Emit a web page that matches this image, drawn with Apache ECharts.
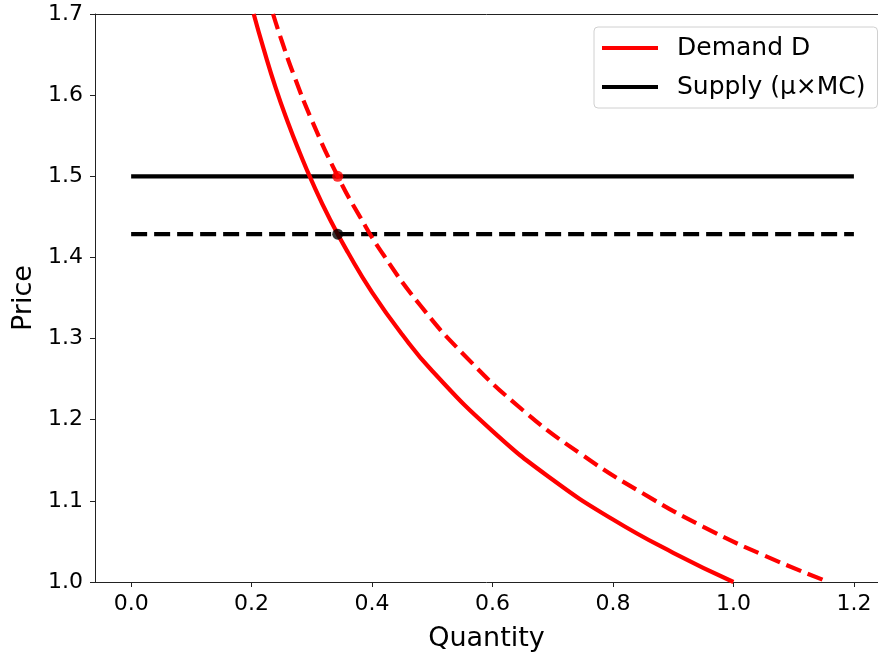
<!DOCTYPE html>
<html>
<head>
<meta charset="utf-8">
<script src="https://cdn.jsdelivr.net/npm/echarts@6/dist/echarts.min.js"></script>
<style>html,body{margin:0;padding:0;background:#fff;}#c{width:878px;height:657px;}</style>
</head>
<body>
<div id="c"></div>
<script>
// Demand D (solid): [quantity, price]
const demandQ = [0.2035, 0.22, 0.24, 0.26, 0.28, 0.30, 0.33, 0.36, 0.40, 0.45, 0.50, 0.60, 0.70, 0.80, 0.90, 1.00];
const demandP = [1.700, 1.657, 1.609, 1.567, 1.529, 1.494, 1.447, 1.406, 1.357, 1.305, 1.260, 1.186, 1.126, 1.077, 1.036, 1.000];
// Shifted demand (dashed)
const demand2Q = [0.2356, 0.25, 0.27, 0.30, 0.343, 0.38, 0.42, 0.48, 0.55, 0.65, 0.75, 0.85, 0.95, 1.05, 1.158];
const demand2P = [1.700, 1.667, 1.625, 1.569, 1.500, 1.450, 1.402, 1.341, 1.282, 1.212, 1.156, 1.109, 1.068, 1.033, 1.000];
// Supply lines
const supplyQ = [0.0, 1.2];
const supplyP = [1.5, 1.5];
const supply2P = [1.4286, 1.4286];
// Equilibrium points
const eqRed = [0.343, 1.5];
const eqBlack = [0.343, 1.4286];
// Ticks
const xTicks = [0.0, 0.2, 0.4, 0.6, 0.8, 1.0, 1.2];
const yTicks = [1.0, 1.1, 1.2, 1.3, 1.4, 1.5, 1.6, 1.7];

const zip = (a, b) => a.map((v, i) => [v, b[i]]);
const FONT = 'DejaVu Sans';

const chart = echarts.init(document.getElementById('c'), null, {renderer: 'canvas'});
chart.setOption({
  animation: false,
  backgroundColor: '#fff',
  textStyle: {fontFamily: FONT},
  grid: {left: 95, top: 14, right: 0, height: 569, show: false},
  legend: {
    left: 594, top: 27, orient: 'vertical',
    data: ['Demand D', 'Supply (μ×MC)'],
    icon: 'rect', itemWidth: 56, itemHeight: 4, itemGap: 9,
    padding: [6, 12, 6, 8],
    backgroundColor: 'rgba(255,255,255,0.8)', borderColor: '#d0d0d0', borderWidth: 1, borderRadius: 4,
    textStyle: {fontFamily: FONT, fontSize: 25, color: '#000', lineHeight: 30, padding: [0, 0, 0, 14]}
  },
  xAxis: [{
    type: 'value', min: -0.06, max: 1.24,
    name: 'Quantity', nameLocation: 'middle', nameGap: 43,
    nameTextStyle: {fontFamily: FONT, fontSize: 27, color: '#000'},
    axisLine: {show: true, onZero: false, lineStyle: {color: '#222', width: 1}},
    axisTick: {show: true, inside: false, length: 5, customValues: xTicks, lineStyle: {color: '#222'}},
    axisLabel: {customValues: xTicks, formatter: v => v.toFixed(1), fontFamily: FONT, fontSize: 22, color: '#000', margin: 11},
    splitLine: {show: false}
  }, {
    type: 'value', min: -0.06, max: 1.24, position: 'top',
    axisLine: {show: true, onZero: false, lineStyle: {color: '#222', width: 1}},
    axisTick: {show: false}, axisLabel: {show: false}, splitLine: {show: false}
  }],
  yAxis: {
    type: 'value', min: 1.0, max: 1.7, interval: 0.1,
    name: 'Price', nameLocation: 'middle', nameGap: 57,
    nameTextStyle: {fontFamily: FONT, fontSize: 27, color: '#000'},
    axisLine: {show: true, onZero: false, lineStyle: {color: '#222', width: 1}},
    axisTick: {show: true, inside: false, length: 5, customValues: yTicks, lineStyle: {color: '#222'}},
    axisLabel: {customValues: yTicks, formatter: v => v.toFixed(1), fontFamily: FONT, fontSize: 22, color: '#000', margin: 12},
    splitLine: {show: false}
  },
  series: [
    {name: 'Demand D', type: 'line', data: zip(demandQ, demandP), smooth: true, showSymbol: false,
     lineStyle: {color: '#ff0000', width: 4.2}, itemStyle: {color: '#ff0000'}, z: 3},
    {name: 'Demand shifted', type: 'line', data: zip(demand2Q, demand2P), smooth: true, showSymbol: false,
     lineStyle: {color: '#ff0000', width: 4.2, type: [16, 7]}, itemStyle: {color: '#ff0000'}, z: 3},
    {name: 'Supply (μ×MC)', type: 'line', data: zip(supplyQ, supplyP), showSymbol: false,
     lineStyle: {color: '#000', width: 4.2}, itemStyle: {color: '#000'}, z: 2},
    {name: 'Supply shifted', type: 'line', data: zip(supplyQ, supply2P), showSymbol: false,
     lineStyle: {color: '#000', width: 4.2, type: [16, 7]}, itemStyle: {color: '#000'}, z: 2},
    {name: 'eq1', type: 'scatter', data: [eqRed], symbolSize: 11, itemStyle: {color: '#ff0000'}, z: 5},
    {name: 'eq2', type: 'scatter', data: [eqBlack], symbolSize: 11, itemStyle: {color: '#000'}, z: 5}
  ]
});
</script>
</body>
</html>
